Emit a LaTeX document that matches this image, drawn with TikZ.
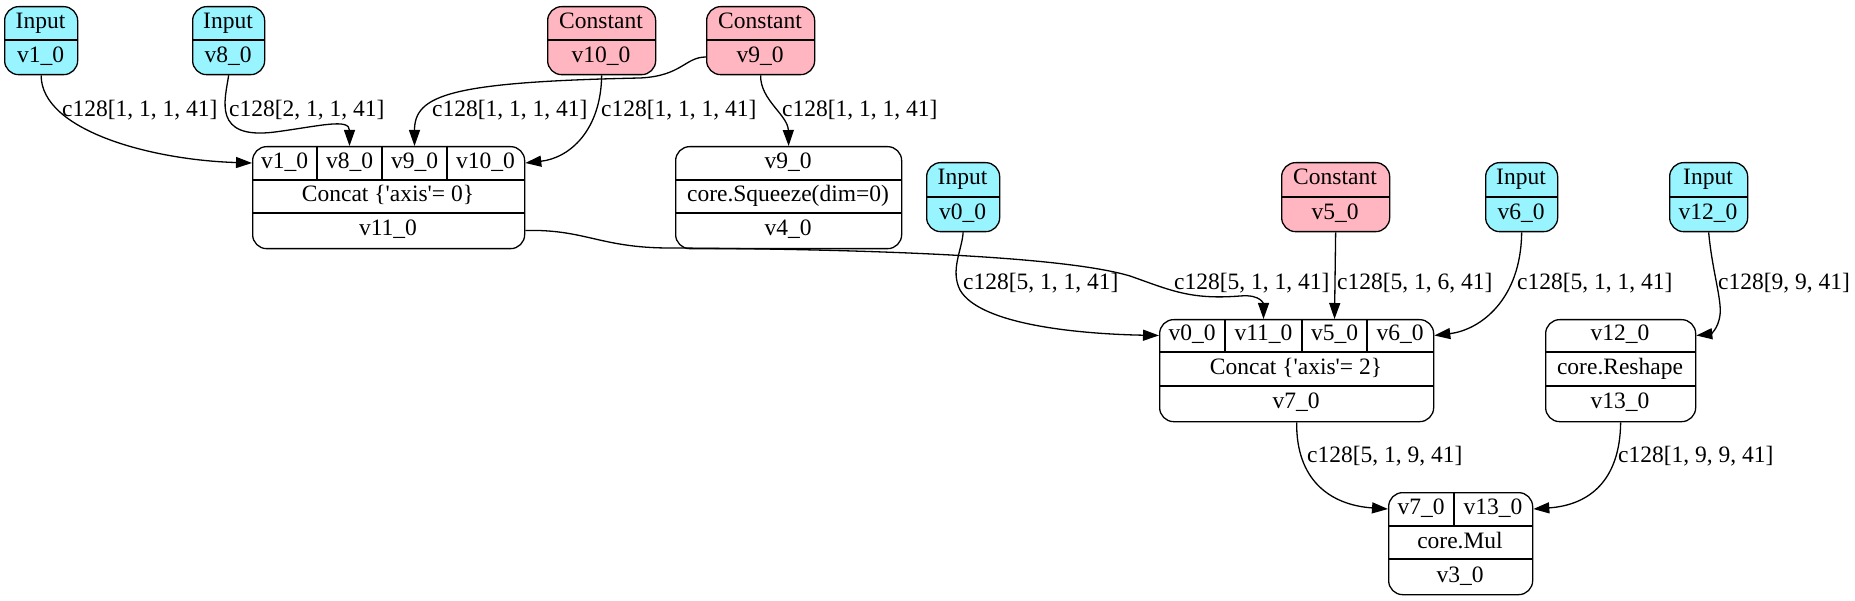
\documentclass[tikz,border=0pt]{standalone}
\usepackage{fontspec}
\setmainfont{Liberation Serif}[Ligatures=TeXOff]
\usetikzlibrary{arrows.meta}
\definecolor{incyan}{HTML}{98F5FF}
\definecolor{cpink}{HTML}{FFB6C1}
\tikzset{
  rec/.style={draw=black, line width=1.3pt, rounded corners=14pt, inner sep=0pt, anchor=north west},
  divl/.style={line width=1.3pt},
  txt/.style={inner sep=0pt, text height=16pt, text depth=5pt},
  lab/.style={inner sep=0pt, anchor=west, text height=16pt, text depth=5pt},
  conn/.style={line width=1.3pt, -{Triangle[length=16pt,width=11pt]}},
}
\begin{document}
\begin{tikzpicture}[x=1pt, y=-1pt, font=\fontsize{23.5}{28}\selectfont]
\useasboundingbox (0,0) rectangle (1855,601);

% ---------- top row ----------
\node[rec, fill=incyan, minimum width=73pt, minimum height=68pt] (v1) at (4,6) {};
\draw[divl] (4,40) -- (77,40);
\node[txt] (v1a) at (40.5,23) {Input};
\node[txt] (v1b) at (40.5,57) {v1\_0};

\node[rec, fill=incyan, minimum width=72pt, minimum height=68pt] (v8) at (192,6) {};
\draw[divl] (192,40) -- (264,40);
\node[txt] (v8a) at (228,23) {Input};
\node[txt] (v8b) at (228,57) {v8\_0};

\node[rec, fill=cpink, minimum width=108pt, minimum height=68pt] (k10) at (547,6) {};
\draw[divl] (547,40) -- (655,40);
\node[txt] (k10a) at (601,23) {Constant};
\node[txt] (k10b) at (601,57) {v10\_0};

\node[rec, fill=cpink, minimum width=108pt, minimum height=68pt] (k9) at (706,6) {};
\draw[divl] (706,40) -- (814,40);
\node[txt] (k9a) at (760,23) {Constant};
\node[txt] (k9b) at (760,57) {v9\_0};

% ---------- Concat 0 ----------
\node[rec, fill=white, minimum width=272pt, minimum height=102pt] (c0) at (252,146) {};
\draw[divl] (252,180) -- (524,180);
\draw[divl] (252,213) -- (524,213);
\draw[divl] (317,146) -- (317,180);
\draw[divl] (382,146) -- (382,180);
\draw[divl] (447,146) -- (447,180);
\node[txt] (c0a) at (284.5,163) {v1\_0};
\node[txt] (c0b) at (349.5,163) {v8\_0};
\node[txt] (c0c) at (414.5,163) {v9\_0};
\node[txt] (c0d) at (485.5,163) {v10\_0};
\node[txt] (c0op) at (388,196.5) {Concat \{'axis'= 0\}};
\node[txt] (c0out) at (388,230.5) {v11\_0};

% ---------- Squeeze ----------
\node[rec, fill=white, minimum width=226pt, minimum height=102pt] (sq) at (675,146) {};
\draw[divl] (675,180) -- (901,180);
\draw[divl] (675,213) -- (901,213);
\node[txt] (sqa) at (788,163) {v9\_0};
\node[txt] (sqb) at (788,196.5) {core.Squeeze(dim=0)};
\node[txt] (sqc) at (788,230.5) {v4\_0};

% ---------- middle row ----------
\node[rec, fill=incyan, minimum width=73pt, minimum height=69pt] (v0) at (926,162) {};
\draw[divl] (926,197) -- (999,197);
\node[txt] (v0a) at (962.5,179.5) {Input};
\node[txt] (v0b) at (962.5,214) {v0\_0};

\node[rec, fill=cpink, minimum width=108pt, minimum height=69pt] (k5) at (1281,162) {};
\draw[divl] (1281,197) -- (1389,197);
\node[txt] (k5a) at (1335,179.5) {Constant};
\node[txt] (k5b) at (1335,214) {v5\_0};

\node[rec, fill=incyan, minimum width=72pt, minimum height=69pt] (v6) at (1485,162) {};
\draw[divl] (1485,197) -- (1557,197);
\node[txt] (v6a) at (1521,179.5) {Input};
\node[txt] (v6b) at (1521,214) {v6\_0};

\node[rec, fill=incyan, minimum width=78pt, minimum height=69pt] (v12) at (1669,162) {};
\draw[divl] (1669,197) -- (1747,197);
\node[txt] (v12a) at (1708,179.5) {Input};
\node[txt] (v12b) at (1708,214) {v12\_0};

% ---------- Concat 2 ----------
\node[rec, fill=white, minimum width=274pt, minimum height=102pt] (c2) at (1159,319) {};
\draw[divl] (1159,352) -- (1433,352);
\draw[divl] (1159,386) -- (1433,386);
\draw[divl] (1225,319) -- (1225,352);
\draw[divl] (1302,319) -- (1302,352);
\draw[divl] (1367,319) -- (1367,352);
\node[txt] (c2a) at (1192,335.5) {v0\_0};
\node[txt] (c2b) at (1263.5,335.5) {v11\_0};
\node[txt] (c2c) at (1334.5,335.5) {v5\_0};
\node[txt] (c2d) at (1400,335.5) {v6\_0};
\node[txt] (c2op) at (1296,369) {Concat \{'axis'= 2\}};
\node[txt] (c2out) at (1296,403.5) {v7\_0};

% ---------- Reshape ----------
\node[rec, fill=white, minimum width=150pt, minimum height=102pt] (rs) at (1545,319) {};
\draw[divl] (1545,352) -- (1695,352);
\draw[divl] (1545,386) -- (1695,386);
\node[txt] (rsa) at (1620,335.5) {v12\_0};
\node[txt] (rsb) at (1620,369) {core.Reshape};
\node[txt] (rsc) at (1620,403.5) {v13\_0};

% ---------- Mul ----------
\node[rec, fill=white, minimum width=144pt, minimum height=102pt] (mu) at (1388,492) {};
\draw[divl] (1388,526) -- (1532,526);
\draw[divl] (1388,559) -- (1532,559);
\draw[divl] (1454,492) -- (1454,526);
\node[txt] (mua) at (1421,509) {v7\_0};
\node[txt] (mub) at (1493,509) {v13\_0};
\node[txt] (muc) at (1460,542.5) {core.Mul};
\node[txt] (mud) at (1460,576.5) {v3\_0};

% ---------- connectors ----------
\draw[conn] (v1.south) .. controls (41,130) and (150,160) .. (c0.west |- c0a);
\draw[conn] (v8.south) .. controls (225,100) and (212,140) .. (275,132) .. controls (320,126) and (349.5,118) .. (c0b |- c0.north);
\draw[conn] (k9.west |- k9b) .. controls (685,57) and (682,76) .. (640,78) .. controls (450,82) and (414.5,95) .. (c0c |- c0.north);
\draw[conn] (k10.south) .. controls (601,130) and (570,158) .. (c0.east |- c0d);
\draw[conn] (k9.south) .. controls (760,100) and (788,115) .. (sq.north);
\draw[conn] (c0.east |- c0out) .. controls (585,229) and (600,248) .. (670,248) .. controls (850,249) and (1060,255) .. (1130,276) .. controls (1170,290) and (1190,300) .. (1240,296) .. controls (1262,294) and (1263.5,305) .. (c2b |- c2.north);
\draw[conn] (v0.south) .. controls (962,250) and (950,270) .. (960,290) .. controls (980,325) and (1080,334) .. (c2.west |- c2a);
\draw[conn] (k5.south) -- (c2c |- c2.north);
\draw[conn] (v6.south) .. controls (1521,300) and (1480,330) .. (c2.east |- c2d);
\draw[conn] (v12.south) .. controls (1712,270) and (1722,300) .. (1720,315) .. controls (1718,330) and (1710,334) .. (rs.east |- rsa);
\draw[conn] (c2.south) .. controls (1296,480) and (1330,505) .. (mu.west |- mua);
\draw[conn] (rs.south) .. controls (1620,480) and (1590,505) .. (mu.east |- mub);

% ---------- labels ----------
\node[lab] (l1) at (62,111) {c128[1, 1, 1, 41]};
\node[lab] (l2) at (229,111) {c128[2, 1, 1, 41]};
\node[lab] (l3) at (432,111) {c128[1, 1, 1, 41]};
\node[lab] (l4) at (601,111) {c128[1, 1, 1, 41]};
\node[lab] (l5) at (782,111) {c128[1, 1, 1, 41]};
\node[lab] (l6) at (1174,284) {c128[5, 1, 1, 41]};
\node[lab] (l7) at (963,284) {c128[5, 1, 1, 41]};
\node[lab] (l8) at (1337,284) {c128[5, 1, 6, 41]};
\node[lab] (l9) at (1517,284) {c128[5, 1, 1, 41]};
\node[lab] (l10) at (1718,284) {c128[9, 9, 41]};
\node[lab] (l11) at (1307,457) {c128[5, 1, 9, 41]};
\node[lab] (l12) at (1618,457) {c128[1, 9, 9, 41]};
\end{tikzpicture}
\end{document}
